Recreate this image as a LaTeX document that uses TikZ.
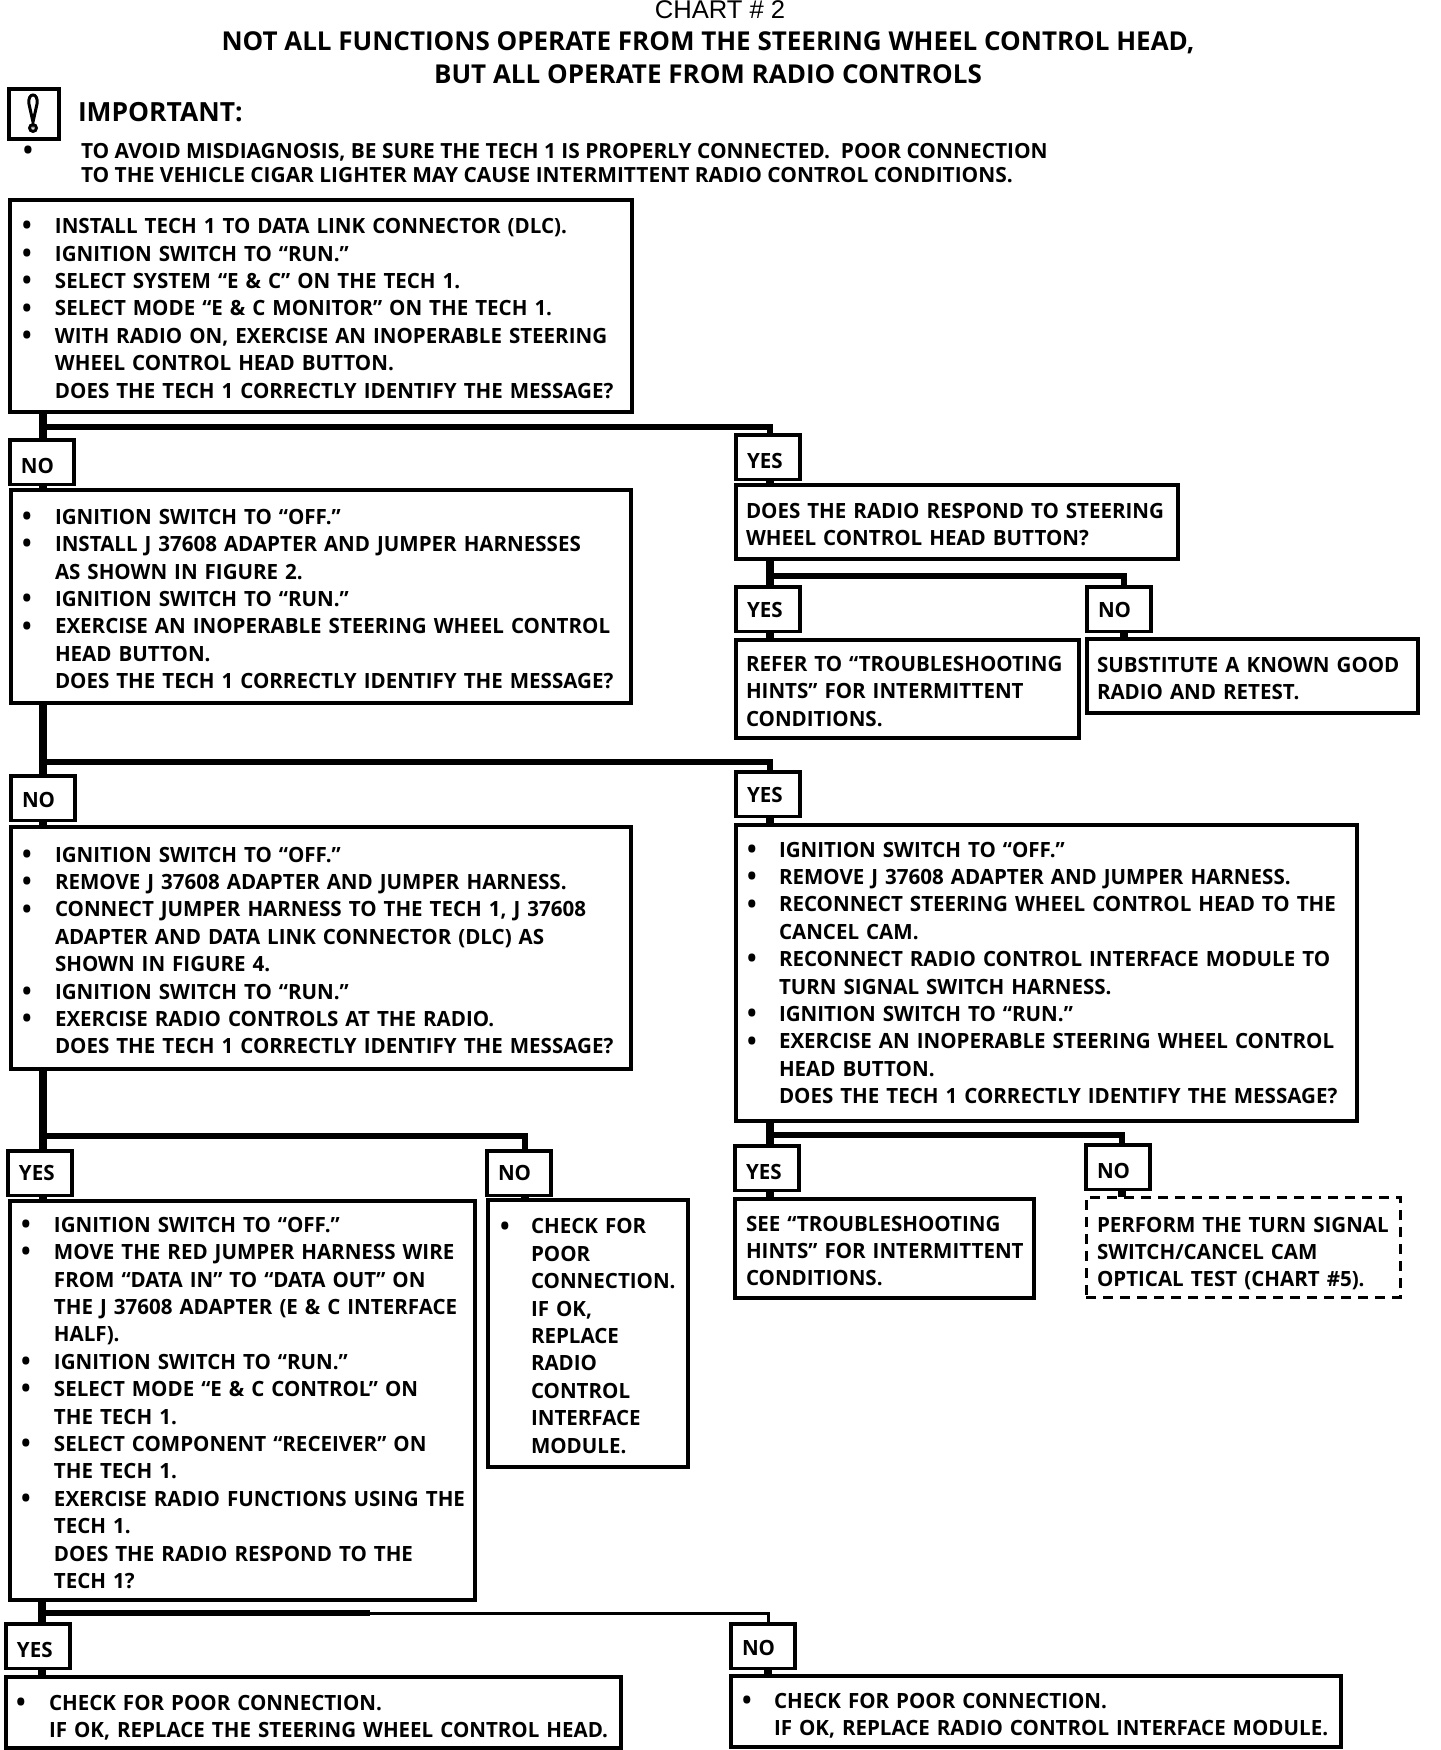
\documentclass[tikz,border=0pt]{standalone}
\usepackage{fontspec}
\setmainfont{Liberation Sans}
\newfontfamily\chartfont{Open Sans}
\newfontfamily\narrowfont[FakeStretch=.978]{Open Sans}
\newcommand\boxfont{\narrowfont\bfseries\fontsize{10.5}{13.7}\selectfont}
\newcommand\LN[1]{\hbox{\kern\bxi\relax #1}}
\newcommand\LB[1]{\hbox{\hbox to 0pt{\kern\bxb\relax\hbox to 0pt{\hss\lower.6pt\hbox{\fontsize{13}{13}\selectfont\textbullet}\hss}\hss}\kern\bxi\relax #1}}
\tikzset{
  x=.5pt,y=-.5pt,
  flowbox/.style={draw,line width=1.7pt,inner sep=0pt,outer sep=0pt,font=\boxfont},
  dashbox/.style={flowbox,line width=1.5pt,dash pattern=on 5pt off 3.5pt},
  vconn/.style={line width=4pt},
  hconn/.style={line width=3pt,line join=miter},
  thinconn/.style={line width=1.5pt},
  plain/.style={inner sep=0pt,outer sep=0pt,anchor=base west}
}
% [style]{name}{x1}{y1}{x2}{y2}{text offset}{bullet offset}{content}
\newcommand\bx[8][flowbox]{%
  \pgfmathsetlengthmacro\bxw{(#5-#3)*.5pt}%
  \pgfmathsetlengthmacro\bxh{(#6-#4)*.5pt}%
  \pgfmathsetlengthmacro\bxi{#7*.5pt}%
  \pgfmathsetlengthmacro\bxb{#8*.5pt}%
  \node[#1,anchor=north west,text width=\bxw,minimum height=\bxh] (#2) at (#3,#4) {\vbox{\kern2.5pt\BXCONTENT}};%
}
\newcommand\lbl[5]{% name x1 y1 text-drop text
  \node[flowbox,anchor=north west,minimum height=22.3pt,text width=32pt] (#1) at (#2,#3) {\vbox{\kern#4pt\hbox{\kern5.5pt #5}}};}
\begin{document}
\begin{tikzpicture}
\useasboundingbox (0,0) rectangle (1440,1750);
% headings
\node[plain,anchor=base,font=\fontsize{12.8}{15}\selectfont] (chart) at (720,19) {CHART \# 2};
\node[plain,anchor=base,font=\chartfont\bfseries\fontsize{13}{15}\selectfont] (t1) at (708,51) {NOT ALL FUNCTIONS OPERATE FROM THE STEERING WHEEL CONTROL HEAD,};
\node[plain,anchor=base,font=\chartfont\bfseries\fontsize{13}{15}\selectfont] (t2) at (708,84) {BUT ALL OPERATE FROM RADIO CONTROLS};
% warning icon
\node[draw,line width=2pt,minimum width=25pt,minimum height=25pt,inner sep=0pt,outer sep=0pt] (icon) at (33.5,114) {};
\draw[line width=1.5pt] (33,122) -- (29,104) .. controls (27,92) and (39,92) .. (37,104) -- cycle;
\draw[line width=1.5pt] (33,128) circle (3.4);
\node[plain,font=\chartfont\bfseries\fontsize{13.2}{15}\selectfont] (imp) at (78,121) {IMPORTANT:};
\node[plain,anchor=base,font=\chartfont\bfseries\fontsize{13}{13}\selectfont] (impb) at (28,160) {\textbullet};
\node[plain,font=\chartfont\bfseries\fontsize{10.45}{13.7}\selectfont] (imp1) at (81,158) {TO AVOID MISDIAGNOSIS, BE SURE THE TECH 1 IS PROPERLY CONNECTED.\ \ POOR CONNECTION};
\node[plain,font=\chartfont\bfseries\fontsize{10.45}{13.7}\selectfont] (imp2) at (81,183) {TO THE VEHICLE CIGAR LIGHTER MAY CAUSE INTERMITTENT RADIO CONTROL CONDITIONS.};
% boxes
\def\BXCONTENT{\LB{INSTALL TECH 1 TO DATA LINK CONNECTOR (DLC).}\LB{IGNITION SWITCH TO “RUN.”}\LB{SELECT SYSTEM “E \& C” ON THE TECH 1.}\LB{SELECT MODE “E \& C MONITOR” ON THE TECH 1.}\LB{WITH RADIO ON, EXERCISE AN INOPERABLE STEERING}\LN{WHEEL CONTROL HEAD BUTTON.}\LN{DOES THE TECH 1 CORRECTLY IDENTIFY THE MESSAGE?}}
\bx{B1}{10}{200}{632}{412}{45}{17}
\def\BXCONTENT{\LB{IGNITION SWITCH TO “OFF.”}\LB{INSTALL J 37608 ADAPTER AND JUMPER HARNESSES}\LN{AS SHOWN IN FIGURE 2.}\LB{IGNITION SWITCH TO “RUN.”}\LB{EXERCISE AN INOPERABLE STEERING WHEEL CONTROL}\LN{HEAD BUTTON.}\LN{DOES THE TECH 1 CORRECTLY IDENTIFY THE MESSAGE?}}
\bx{B5}{11}{490}{631}{703}{44}{16}
\def\BXCONTENT{\LN{DOES THE RADIO RESPOND TO STEERING}\LN{WHEEL CONTROL HEAD BUTTON?}}
\bx{B2}{736}{485}{1178}{559}{10}{0}
\def\BXCONTENT{\LN{REFER TO “TROUBLESHOOTING}\LN{HINTS” FOR INTERMITTENT}\LN{CONDITIONS.}}
\bx{B3}{736}{640}{1079}{738}{10}{0}
\def\BXCONTENT{\LN{SUBSTITUTE A KNOWN GOOD}\LN{RADIO AND RETEST.}}
\bx{B4}{1087}{639}{1418}{713}{10}{0}
\def\BXCONTENT{\LB{IGNITION SWITCH TO “OFF.”}\LB{REMOVE J 37608 ADAPTER AND JUMPER HARNESS.}\LB{CONNECT JUMPER HARNESS TO THE TECH 1, J 37608}\LN{ADAPTER AND DATA LINK CONNECTOR (DLC) AS}\LN{SHOWN IN FIGURE 4.}\LB{IGNITION SWITCH TO “RUN.”}\LB{EXERCISE RADIO CONTROLS AT THE RADIO.}\LN{DOES THE TECH 1 CORRECTLY IDENTIFY THE MESSAGE?}}
\bx{B6}{11}{827}{631}{1069}{44}{16}
\def\BXCONTENT{\kern-2.5pt\LB{IGNITION SWITCH TO “OFF.”}\LB{REMOVE J 37608 ADAPTER AND JUMPER HARNESS.}\LB{RECONNECT STEERING WHEEL CONTROL HEAD TO THE}\LN{CANCEL CAM.}\LB{RECONNECT RADIO CONTROL INTERFACE MODULE TO}\LN{TURN SIGNAL SWITCH HARNESS.}\LB{IGNITION SWITCH TO “RUN.”}\LB{EXERCISE AN INOPERABLE STEERING WHEEL CONTROL}\LN{HEAD BUTTON.}\LN{DOES THE TECH 1 CORRECTLY IDENTIFY THE MESSAGE?}}
\bx{B7}{736}{825}{1357}{1121}{43}{16}
\def\BXCONTENT{\LB{IGNITION SWITCH TO “OFF.”}\LB{MOVE THE RED JUMPER HARNESS WIRE}\LN{FROM “DATA IN” TO “DATA OUT” ON}\LN{THE J 37608 ADAPTER (E \& C INTERFACE}\LN{HALF).}\LB{IGNITION SWITCH TO “RUN.”}\LB{SELECT MODE “E \& C CONTROL” ON}\LN{THE TECH 1.}\LB{SELECT COMPONENT “RECEIVER” ON}\LN{THE TECH 1.}\LB{EXERCISE RADIO FUNCTIONS USING THE}\LN{TECH 1.}\LN{DOES THE RADIO RESPOND TO THE}\LN{TECH 1?}}
\bx{B8}{10}{1201}{475}{1600}{44}{16}
\def\BXCONTENT{\LB{CHECK FOR}\LN{POOR}\LN{CONNECTION.}\LN{IF OK,}\LN{REPLACE}\LN{RADIO}\LN{CONTROL}\LN{INTERFACE}\LN{MODULE.}}
\bx{B9}{488}{1200}{688}{1467}{43}{17}
\def\BXCONTENT{\LN{SEE “TROUBLESHOOTING}\LN{HINTS” FOR INTERMITTENT}\LN{CONDITIONS.}}
\bx{B10}{735}{1199}{1034}{1298}{11}{0}
\def\BXCONTENT{\kern4pt\LN{PERFORM THE TURN SIGNAL}\LN{SWITCH/CANCEL CAM}\LN{OPTICAL TEST (CHART \#5).}}
\bx[dashbox]{B11}{1086}{1197}{1400}{1297}{11}{0}
\def\BXCONTENT{\kern2.5pt\LB{CHECK FOR POOR CONNECTION.}\LN{IF OK, REPLACE THE STEERING WHEEL CONTROL HEAD.}}
\bx{B12}{6}{1677}{621}{1748}{43}{15}
\def\BXCONTENT{\kern2pt\LB{CHECK FOR POOR CONNECTION.}\LN{IF OK, REPLACE RADIO CONTROL INTERFACE MODULE.}}
\bx{B13}{731}{1676}{1341}{1747}{43}{16}
% labels
\lbl{N1}{10}{440}{3.3}{NO}
\lbl{Y1}{736}{435}{3.3}{YES}
\lbl{Y2}{736}{587}{1}{YES}
\lbl{N2}{1087}{587}{1}{NO}
\lbl{N3}{11}{776}{2}{NO}
\lbl{Y3}{736}{772}{1}{YES}
\lbl{Y4}{8}{1151}{0}{YES}
\lbl{N4}{487}{1151}{0}{NO}
\lbl{Y5}{735}{1146}{3.3}{YES}
\lbl{N5}{1086}{1145}{4}{NO}
\lbl{Y6}{6}{1624}{3.3}{YES}
\lbl{N6}{731}{1624}{2}{NO}
% junctions
\coordinate (j1) at (43,427);
\coordinate (j2) at (43,762);
\coordinate (j3) at (770,576);
\coordinate (j4) at (43,1136);
\coordinate (j5) at (770,1135);
\coordinate (j6) at (42,1613);
\coordinate (c1) at (770,427);
\coordinate (c2) at (770,762);
\coordinate (c3) at (1124,576);
\coordinate (c4) at (525,1136);
\coordinate (c5) at (1122,1135);
\coordinate (c6) at (768,1613);
\coordinate (c6m) at (370,1613);
% connectors
\draw[vconn] (B1.south -| j1) -- (N1.north -| j1);
\draw[vconn] (N1.south -| j1) -- (B5.north -| j1);
\draw[hconn] (j1) -- (c1) -- (Y1.north -| c1);
\draw[vconn] (Y1.south -| c1) -- (B2.north -| c1);
\draw[vconn] (B5.south -| j2) -- (N3.north -| j2);
\draw[vconn] (N3.south -| j2) -- (B6.north -| j2);
\draw[hconn] (j2) -- (c2) -- (Y3.north -| c2);
\draw[vconn] (Y3.south -| c2) -- (B7.north -| c2);
\draw[vconn] (B2.south -| j3) -- (Y2.north -| j3);
\draw[vconn] (Y2.south -| j3) -- (B3.north -| j3);
\draw[hconn] (j3) -- (c3) -- (N2.north -| c3);
\draw[vconn] (N2.south -| c3) -- (B4.north -| c3);
\draw[vconn] (B6.south -| j4) -- (Y4.north -| j4);
\draw[vconn] (Y4.south -| j4) -- (B8.north -| j4);
\draw[hconn] (j4) -- (c4) -- (N4.north -| c4);
\draw[vconn] (N4.south -| c4) -- (B9.north -| c4);
\draw[vconn] (B7.south -| j5) -- (Y5.north -| j5);
\draw[vconn] (Y5.south -| j5) -- (B10.north -| j5);
\draw[hconn] (j5) -- (c5) -- (N5.north -| c5);
\draw[vconn] (N5.south -| c5) -- (B11.north -| c5);
\draw[vconn] (B8.south -| j6) -- (Y6.north -| j6);
\draw[vconn] (Y6.south -| j6) -- (B12.north -| j6);
\draw[hconn] (j6) -- (c6m);
\draw[thinconn] (c6m) -- (c6) -- (N6.north -| c6);
\draw[vconn] (N6.south -| c6) -- (B13.north -| c6);
\end{tikzpicture}
\end{document}
